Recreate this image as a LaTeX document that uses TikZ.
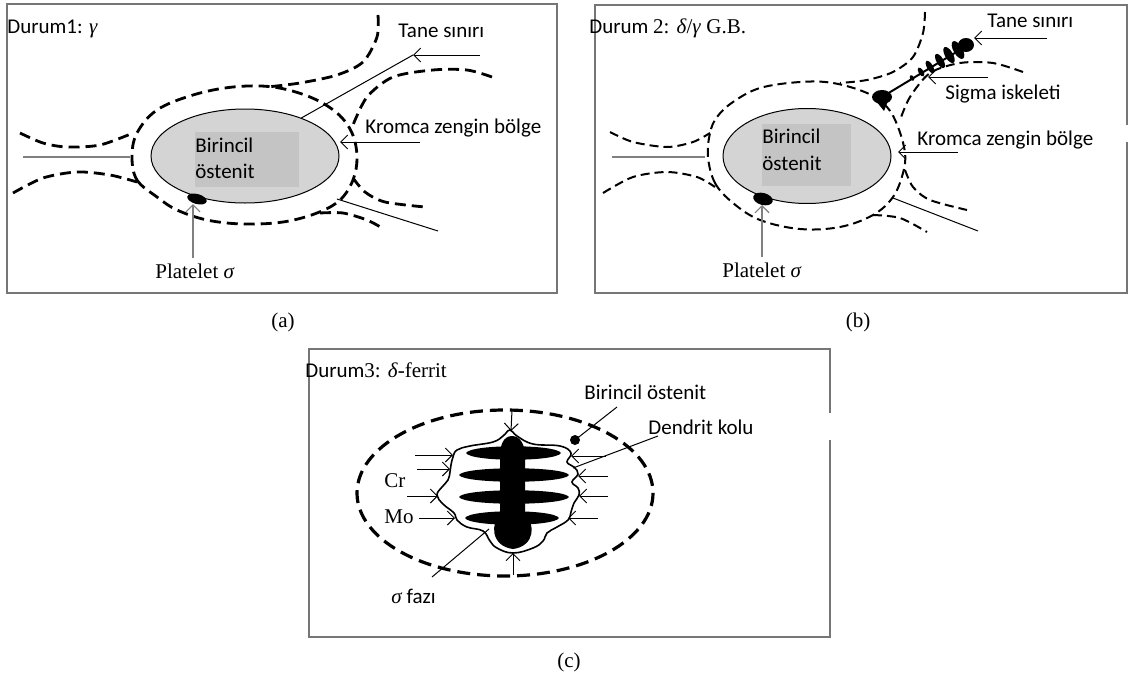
\documentclass[tikz,border=0pt]{standalone}
\usepackage{fontspec}
\setmainfont{Carlito}
\newfontfamily\serifgr{Liberation Serif}
\usetikzlibrary{shapes.geometric,arrows.meta}

\definecolor{grainfill}{RGB}{212,212,212}
\definecolor{boxgray}{RGB}{196,196,196}
\definecolor{framegray}{RGB}{118,118,118}
\tikzstyle{gb} = [line width=1.4pt, dash pattern=on 5.5pt off 3pt]
\tikzstyle{gbthin} = [line width=1pt, dash pattern=on 4.5pt off 2.5pt]
\tikzstyle{barb} = [-{Straight Barb[length=3.5pt,width=7pt]}]

\begin{document}
\begin{tikzpicture}[x=0.5pt,y=-0.5pt,
		txt/.style={font=\fontsize{10.5}{13}\selectfont, inner sep=0pt, anchor=base west},
		captxt/.style={font=\serifgr\fontsize{10.5}{13}\selectfont, inner sep=0pt},
		frame/.style={draw=framegray, line width=1pt},
		grain/.style={ellipse, draw, fill=grainfill, line width=0.5pt, inner sep=0pt},
		lead/.style={draw, line width=0.5pt},
		guide/.style={draw=gray, line width=0.6pt}]
	\useasboundingbox (0,0) rectangle (1134,680);

	% frames, the two lower right ones are broken
	\draw[frame] (7,4) rectangle (557,293);
	\draw[frame] (1127,125) -- (1127,5) -- (595,5) -- (595,293) -- (1127,293) -- (1127,142);
	\draw[frame] (830,413) -- (830,349) -- (309,349) -- (309,637) -- (830,637) -- (830,440);

	% ---------- (a) ----------
	\draw[gb] plot[smooth cycle, tension=0.6] coordinates {(132,157) (137,180) (157,197) (177,210) (207,220) (243,224) (283,222) (317,213) (340,200) (353,180) (357,157) (352,133) (337,113) (310,97) (273,87) (233,87) (193,95) (157,110) (137,133)};
	\draw[gb] plot[smooth] coordinates {(378,15) (377,37) (363,62) (337,75) (300,83) (267,87)};
	\draw[gb] plot[smooth] coordinates {(492,77) (467,70) (433,70) (393,77) (367,97) (353,125)};
	\draw[gb] plot[smooth] coordinates {(353,178) (365,192) (385,202) (425,207)};
	\draw[gb] plot[smooth] coordinates {(20,133) (43,143) (67,147) (100,145) (133,133)};
	\draw[gb] plot[smooth] coordinates {(13,193) (43,178) (77,172) (110,175) (137,182)};
	\draw[gb] plot[smooth] coordinates {(320,213) (343,213) (367,220) (382,228)};

	\node (ga) [grain, minimum width=94pt, minimum height=47pt] at (245,156) {};
	\fill[boxgray] (195,132) rectangle (299,187);
	\node (ga1) [txt] at (195,152) {Birincil};
	\node (ga2) [txt] at (195,178) {östenit};
	\fill[rotate around={-15:(197,199)}] (197,199) ellipse (10 and 5);

	\node (dur1) [txt] at (7,33) {Durum1: {\serifgr\itshape γ}};
	\node (tane1) [txt] at (398,37) {Tane sınırı};
	\node (krom1) [txt] at (365,133) {Kromca zengin bölge};
	\node (plat1) [txt, font=\serifgr\fontsize{10.5}{13}\selectfont] at (155,278) {Platelet \textit{σ}};

	\coordinate (t1a) at (480,55);
	\coordinate (t1b) at (413,55);
	\coordinate (k1a) at (420,142);
	\coordinate (k1b) at (340,142);
	\coordinate (s1a) at (337,199);
	\coordinate (s1b) at (438,231);
	\coordinate (l1a) at (23,157);
	\coordinate (l1b) at (130,157);
	\coordinate (p1a) at (193,258);
	\coordinate (p1b) at (193,204);
	\draw[lead, barb] (t1a) -- (t1b);
	\draw[lead] (t1b) -- (ga.34);
	\draw[lead, barb] (k1a) -- (k1b);
	\draw[lead] (s1a) -- (s1b);
	\draw[guide] (l1a) -- (l1b);
	\draw[guide, barb] (p1a) -- (p1b);

	% ---------- (b) ----------
	\draw[gbthin] plot[smooth cycle, tension=0.6] coordinates {(708,157) (715,183) (733,203) (760,220) (800,229) (840,227) (873,215) (893,197) (903,173) (905,153) (898,127) (887,107) (867,93) (833,83) (800,82) (760,88) (733,102) (717,117) (710,133)};
	\draw[gbthin] plot[smooth] coordinates {(925,12) (923,33) (913,57) (893,72) (867,80) (840,83)};
	\draw[gbthin] plot[smooth] coordinates {(1023,72) (993,63) (960,63) (930,73) (910,97) (900,120)};
	\draw[gbthin] plot[smooth] coordinates {(905,170) (913,187) (930,200) (967,210)};
	\draw[gbthin] plot[smooth] coordinates {(610,132) (633,142) (667,147) (693,142) (710,133)};
	\draw[gbthin] plot[smooth] coordinates {(603,193) (633,177) (667,172) (697,177) (715,187)};
	\draw[gbthin] plot[smooth] coordinates {(873,215) (900,218) (927,232)};

	\node (gb) [grain, minimum width=84pt, minimum height=47.5pt] at (807,156) {};
	\fill[boxgray] (762,124) rectangle (851,186);
	\node (gb1) [txt] at (762,143) {Birincil};
	\node (gb2) [txt] at (762,170) {östenit};
	\fill[rotate around={-15:(763,199)}] (763,199) ellipse (10 and 6);

	% sigma skeleton along the boundary
	\fill (882,97) ellipse (10 and 7);
	\fill (876,101) -- (888,101) -- (884,111) -- cycle;
	\draw[line width=1pt] (882,97) -- (968,45);
	\foreach \lx/\ly/\lw/\lh in {912/78/3/2, 921/72/5/2.5, 930/67/7/3, 940/61/8/3.5, 949/55/9/4, 958/50/10/4.5}
		\fill[rotate around={120:(\lx,\ly)}] (\lx,\ly) ellipse [x radius=\lw, y radius=\lh];
	\fill (966,45) ellipse (8 and 7);

	\node (dur2) [txt] at (589,33) {Durum {\serifgr 2: \textit{δ}/\textit{γ} G.B.}};
	\node (tane2) [txt] at (987,27) {Tane sınırı};
	\node (sig2) [txt] at (945,99) {Sigma iskeleti};
	\node (krom2) [txt] at (917,145) {Kromca zengin bölge};
	\node (plat2) [txt, font=\serifgr\fontsize{10.5}{13}\selectfont] at (722,277) {Platelet \textit{σ}};

	\coordinate (t2a) at (1047,38);
	\coordinate (t2b) at (974,38);
	\coordinate (g2a) at (988,77);
	\coordinate (g2b) at (928,77);
	\coordinate (k2a) at (958,152);
	\coordinate (k2b) at (898,152);
	\coordinate (s2a) at (893,198);
	\coordinate (s2b) at (978,231);
	\coordinate (l2a) at (612,157);
	\coordinate (l2b) at (705,157);
	\coordinate (p2a) at (762,257);
	\coordinate (p2b) at (762,205);
	\draw[lead, barb] (t2a) -- (t2b);
	\draw[lead, barb] (g2a) -- (g2b);
	\draw[lead, barb] (k2a) -- (k2b);
	\draw[lead] (s2a) -- (s2b);
	\draw[guide] (l2a) -- (l2b);
	\draw[guide, barb] (p2a) -- (p2b);

	% ---------- (c) ----------
	\draw[line width=1.6pt, dash pattern=on 6.5pt off 3.5pt] (505,493) ellipse (148 and 83);

	% dendrite: trunk and arms
	\fill (512,436) .. controls (521,436) and (525,446) .. (525,456) -- (525,516)
		.. controls (535,522) and (536,546) .. (513,549) .. controls (490,546) and (491,522) .. (500,516)
		-- (500,456) .. controls (500,446) and (503,436) .. (512,436) -- cycle;
	\foreach \y/\l/\r in {453/466/561, 475/459/569, 497/459/569, 518/465/559}
		\fill (\l,\y) .. controls (\l+5,\y-9) and (\r-5,\y-9) .. (\r,\y) .. controls (\r-5,\y+9) and (\l+5,\y+9) .. (\l,\y) -- cycle;
	\draw[line width=0.8pt] plot[smooth cycle, tension=0.7] coordinates {(510,430) (517,436) (533,444) (560,446) (571,453) (567,462) (574,467) (578,474) (572,482) (578,488) (579,495) (574,503) (571,512) (568,520) (557,527) (547,533) (543,541) (533,548) (513,553) (497,548) (490,541) (483,531) (467,527) (457,520) (454,513) (443,504) (437,495) (442,487) (448,480) (450,472) (451,465) (453,457) (457,450) (470,446) (493,442) (503,436)};

	\node (dur3) [txt] at (305,377) {Durum{\serifgr 3: \textit{δ}-ferrit}};
	\node (bir3) [txt] at (584,399) {Birincil östenit};
	\node (den3) [txt] at (648,434) {Dendrit kolu};
	\node (cr3) [txt, font=\serifgr\fontsize{10.5}{13}\selectfont] at (384,487) {Cr};
	\node (mo3) [txt, font=\serifgr\fontsize{10.5}{13}\selectfont] at (384,523) {Mo};
	\node (sf3) [txt] at (391,603) {{\serifgr\itshape σ} fazı};

	\coordinate (ct) at (512,410);
	\coordinate (cb) at (513,575);
	\coordinate (b3) at (575,440);
	\fill (b3) circle (5);
	\draw[lead] (617,407) -- (b3);
	\draw[lead] (658,436) -- (573,468);
	\draw[lead] (432,577) -- (489,529);
	\draw[lead, barb] (ct) -- (511,431);
	\draw[lead, barb] (cb) -- (513,553);
	\foreach \ya/\xa/\xb in {455/415/453, 469/417/450, 496/407/438, 518/419/455}
		\draw[lead, barb] (\xa,\ya) -- (\xb,\ya);
	\foreach \ya/\xa/\xb in {456/606/571, 476/608/578, 496/608/579, 518/598/568}
		\draw[lead, barb] (\xa,\ya) -- (\xb,\ya);

	% captions
	\node (capa) [captxt] at (283,322) {(a)};
	\node (capb) [captxt] at (858,322) {(b)};
	\node (capc) [captxt] at (569,662) {(c)};
\end{tikzpicture}
\end{document}
